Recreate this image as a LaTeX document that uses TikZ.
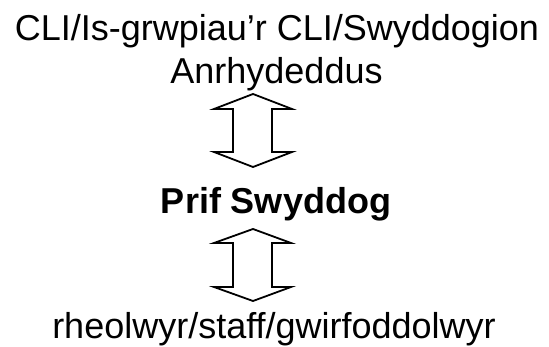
\documentclass[tikz,border=0pt]{standalone}
\usepackage{fontspec}
\setmainfont{Liberation Sans}
\usepackage{tikz}

\begin{document}
\begin{tikzpicture}[x=1pt,y=-1pt,line width=1.8pt,line join=miter,
        every node/.style={anchor=base,inner sep=0pt,font=\fontsize{36}{43}\selectfont}]
        \useasboundingbox (0,0) rectangle (549,347);

        \node (cli) at (277,40.7) {CLI/Is-grwpiau’r CLI/Swyddogion};
        \node (anrh) at (276.5,83.3) {Anrhydeddus};
        \node[font=\fontsize{36}{43}\selectfont\bfseries] (prif) at (276,213.3) {Prif Swyddog};
        \node (staff) at (274,339) {rheolwyr/staff/gwirfoddolwyr};

        \draw (253,94) -- (292,109) -- (272,109) -- (272,152) -- (292,152) -- (253,167)
              -- (214,152) -- (233,152) -- (233,109) -- (214,109) -- cycle;
        \draw (253,229) -- (291,243) -- (272,243) -- (272,287) -- (291,287) -- (253,301)
              -- (214,287) -- (233,287) -- (233,243) -- (214,243) -- cycle;
    \end{tikzpicture}
\end{document}
